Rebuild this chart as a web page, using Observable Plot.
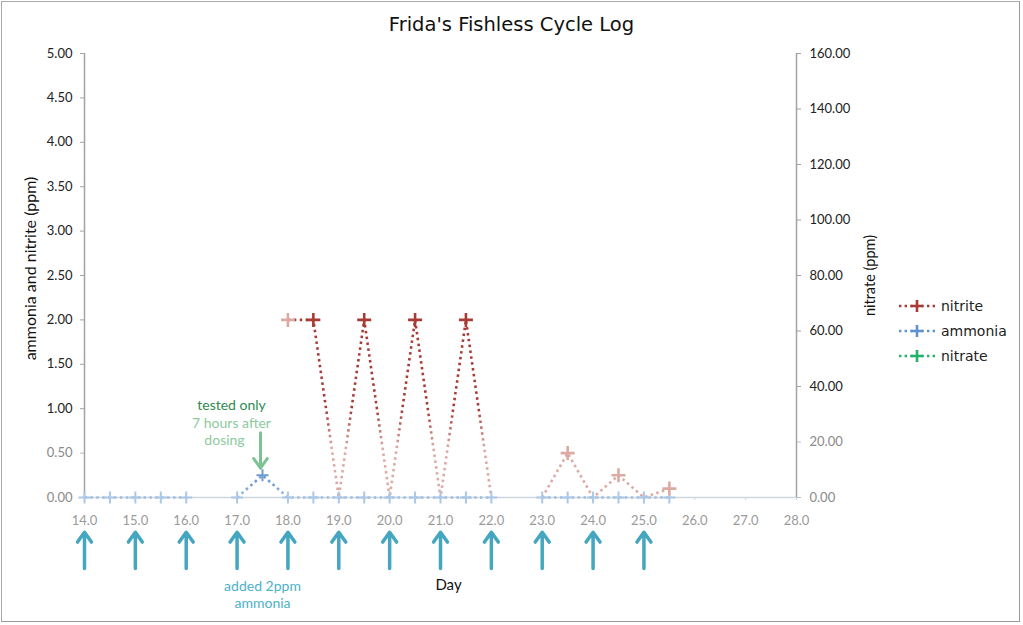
<!DOCTYPE html>
<html>
<head>
<meta charset="utf-8">
<script src="https://cdn.jsdelivr.net/npm/d3@7"></script>
<script src="https://cdn.jsdelivr.net/npm/@observablehq/plot@0.6"></script>
<style>
  html, body { margin: 0; padding: 0; background: #fff; overflow: hidden; }
  body { position: relative; width: 1023px; height: 625px; }
  #frame { position: absolute; left: 1px; top: 1px; width: 1017px; height: 619px;
           border: 1px solid #a9a9a9; border-right-color: #9a9a9a; border-bottom-color: #9a9a9a; pointer-events: none; }
  #title { height: 45px; line-height: 50px; text-align: center; font-family: "DejaVu Sans", Verdana, sans-serif;
           font-size: 19.5px; color: #111; padding-left: 0px; }
  #chart svg { display: block; }
  #legend { position: absolute; left: 898px; top: 293px; font-family: "DejaVu Sans", sans-serif; font-size: 14px; color: #222; }
  #legend .row { height: 25px; display: flex; align-items: center; }
  #legend svg { margin-right: 5px; }
</style>
</head>
<body>
<div id="title">Frida's Fishless Cycle Log</div>
<div id="chart"></div>
<div id="legend"></div>
<div id="frame"></div>
<script>
// ---- data ----
const days     = [14, 14.5, 15, 15.5, 16, 16.5, 17, 17.5, 18, 18.5, 19, 19.5, 20, 20.5, 21, 21.5, 22, 22.5, 23, 23.5, 24, 24.5, 25, 25.5];
const ammonia  = [0, 0, 0, 0, 0, null, 0, 0.25, 0, 0, 0, 0, 0, 0, 0, 0, 0, null, 0, 0, 0, 0, 0, 0];
const nitrite  = [null, null, null, null, null, null, null, null, 2, 2, 0, 2, 0, 2, 0, 2, 0, null, 0, 0.5, 0, 0.25, 0, 0.1];
const nitrate  = [];
const doseDays = [14, 15, 16, 17, 18, 19, 20, 21, 22, 23, 24, 25];
const xTicks   = [14, 15, 16, 17, 18, 19, 20, 21, 22, 23, 24, 25, 26, 27, 28];
const leftTicks  = [0, 0.5, 1, 1.5, 2, 2.5, 3, 3.5, 4, 4.5, 5];
const rightTicks = [0, 20, 40, 60, 80, 100, 120, 140, 160];
const seriesNames = ["nitrite", "ammonia", "nitrate"];
const noteTested = ["tested only", "7 hours after", "dosing"];
const noteDose = ["added 2ppm", "ammonia"];
const testedPoint = {day: 17.5, value: 0.25};
const dosePoint = {day: 17.5};

// ---- styling ----
const C = {
  nitrite: "#a83b35", nitriteFade: "#dcaaa3",
  ammonia: "#9dbde2", ammoniaMark: "#abc8e8", ammoniaPeak: "#6f9bd0",
  nitrate: "#22b36a",
  dose: "#45a6bf", doseText: "#4cb2c8",
  tested: "#2e8a4e", testedLight: "#8ec9a0", testedArrow: "#7cc394"
};
const W = 1023, H = 580, mT = 8, mB = 128, mL = 84, mR = 227;
const nitrateMax = 160, leftMax = 5, k = nitrateMax / leftMax;

const cross = {
  draw(ctx, size) {
    const r = Math.sqrt(size / Math.PI);
    ctx.moveTo(-r, 0); ctx.lineTo(r, 0);
    ctx.moveTo(0, -r); ctx.lineTo(0, r);
  }
};

const ammoniaData = days.map((d, i) => ({day: d, v: ammonia[i]}));
const nitriteData = days.map((d, i) => ({day: d, v: nitrite[i]}));
const nitrateData = nitrate.map((v, i) => ({day: days[i], v: v / k}));
const nitriteMarks = nitriteData.filter(d => d.v != null && d.v > 0);
const firstNitrite = nitriteMarks[0];

const dotted = {strokeWidth: 2.6, strokeDasharray: "2.5 3.4", strokeLinecap: "butt"};

const plot = Plot.plot({
  width: W, height: H,
  marginTop: mT, marginBottom: mB, marginLeft: mL, marginRight: mR,
  style: {fontFamily: "Lato, 'Open Sans', sans-serif", fontSize: "13px", background: "transparent", overflow: "visible"},
  x: {domain: [14, 28]},
  y: {domain: [0, leftMax]},
  marks: [
    // axis lines
    Plot.ruleY([0], {stroke: "#cdd6e0", strokeWidth: 1.5}),
    Plot.ruleX([14], {stroke: "#a3a3a3", strokeWidth: 1.5}),
    Plot.ruleX([28], {stroke: "#a3a3a3", strokeWidth: 1.5}),
    // left axis
    Plot.axisY(leftTicks.filter(t => t > 0.5), {anchor: "left", tickSize: 4, tickPadding: 8, stroke: "#a3a3a3", fill: "#222", fontSize: 13, tickFormat: d => d.toFixed(2), label: null}),
    Plot.axisY(leftTicks.filter(t => t <= 0.5), {anchor: "left", tickSize: 4, tickPadding: 8, stroke: "#bbb", fill: "#8a8a8a", fontSize: 13, tickFormat: d => d.toFixed(2), label: null}),
    // right axis (nitrate)
    Plot.axisY(rightTicks.filter(t => t > 20).map(t => t / k), {anchor: "right", tickSize: 4, tickPadding: 9, stroke: "#a3a3a3", fill: "#222", fontSize: 13, tickFormat: d => (d * k).toFixed(2), label: null}),
    Plot.axisY(rightTicks.filter(t => t <= 20).map(t => t / k), {anchor: "right", tickSize: 4, tickPadding: 9, stroke: "#bbb", fill: "#8a8a8a", fontSize: 13, tickFormat: d => (d * k).toFixed(2), label: null}),
    // x axis
    Plot.axisX(xTicks, {tickSize: 3, tickPadding: 15, stroke: "#cdd6e0", fill: "#9a9a9a", fontSize: 13, tickFormat: d => d.toFixed(1), label: null}),
    // axis titles
    Plot.text(["ammonia and nitrite (ppm)"], {frameAnchor: "left", textAnchor: "middle", lineAnchor: "middle", dx: -54, dy: -7, rotate: -90, fontSize: 16, fill: "#111", text: d => d}),
    Plot.text(["nitrate (ppm)"], {frameAnchor: "right", textAnchor: "middle", lineAnchor: "middle", dx: 74, dy: 0, rotate: -90, fontSize: 14.5, fill: "#111", text: d => d}),
    Plot.text(["Day"], {frameAnchor: "bottom", lineAnchor: "middle", dx: 8, dy: 88, fontSize: 15, fill: "#111", text: d => d}),
    // series lines
    Plot.line(ammoniaData, {x: "day", y: "v", stroke: "url(#ammoniaGrad)", ...dotted}),
    Plot.line(nitriteData, {x: "day", y: "v", stroke: "url(#nitriteGrad)", ...dotted}),
    Plot.line(nitrateData, {x: "day", y: "v", stroke: C.nitrate, ...dotted}),
    // markers
    Plot.dot(ammoniaData.filter(d => d.v != null), {x: "day", y: "v", symbol: cross, r: 6, fill: "none",
      stroke: d => d.v > 0 ? C.ammoniaPeak : C.ammoniaMark, strokeWidth: 2}),
    Plot.dot(nitriteMarks, {x: "day", y: "v", symbol: cross, r: 7, fill: "none",
      stroke: d => (d === firstNitrite || d.v < 1) ? C.nitriteFade : C.nitrite, strokeWidth: 2.6}),
    // dosing arrows
    Plot.arrow(doseDays, {x: d => d, y1: -0.8, y2: -0.39, stroke: C.dose, strokeWidth: 3.5, headLength: 11, headAngle: 70}),
    Plot.text([dosePoint], {x: "day", frameAnchor: "bottom", lineAnchor: "middle", dy: 89, fontSize: 14, fill: C.doseText, text: () => noteDose[0]}),
    Plot.text([dosePoint], {x: "day", frameAnchor: "bottom", lineAnchor: "middle", dy: 106, fontSize: 14, fill: C.doseText, text: () => noteDose[1]}),
    // tested annotation
    Plot.arrow([testedPoint], {x: "day", y1: d => d.value + 0.48, y2: d => d.value + 0.08, dx: -2, stroke: C.testedArrow, strokeWidth: 3, headLength: 10, headAngle: 70}),
    Plot.text([testedPoint], {x: "day", y: "value", dx: -31, dy: -70, text: () => noteTested[0], fontSize: 14, fill: C.tested}),
    Plot.text([testedPoint], {x: "day", y: "value", dx: -31, dy: -52, text: () => noteTested[1], fontSize: 14, fill: C.testedLight}),
    Plot.text([testedPoint], {x: "day", y: "value", dx: -38, dy: -35, text: () => noteTested[2], fontSize: 14, fill: C.testedLight})
  ]
});

// vertical gradients for the series lines (darker high, faded near zero)
const yScale = plot.scale("y");
const yPix = v => yScale.apply ? yScale.apply(v) : mT + (1 - v / leftMax) * (H - mT - mB);
const ns = "http://www.w3.org/2000/svg";
const defs = document.createElementNS(ns, "defs");
function addGrad(id, top, bottom, stops) {
  const grad = document.createElementNS(ns, "linearGradient");
  grad.setAttribute("id", id);
  grad.setAttribute("gradientUnits", "userSpaceOnUse");
  grad.setAttribute("x1", 0); grad.setAttribute("x2", 0);
  grad.setAttribute("y1", yPix(top)); grad.setAttribute("y2", yPix(bottom));
  stops.forEach(([o, c]) => {
    const s = document.createElementNS(ns, "stop");
    s.setAttribute("offset", o); s.setAttribute("stop-color", c);
    grad.appendChild(s);
  });
  defs.appendChild(grad);
}
addGrad("nitriteGrad", 2, 0, [[0, C.nitrite], [0.5, C.nitrite], [0.72, C.nitriteFade], [1, C.nitriteFade]]);
addGrad("ammoniaGrad", 0.25, 0, [[0, C.ammoniaPeak], [0.45, C.ammoniaPeak], [0.9, C.ammonia], [1, C.ammonia]]);
plot.insertBefore(defs, plot.firstChild);
document.getElementById("chart").appendChild(plot);

// legend
const legendColors = {nitrite: C.nitrite, ammonia: "#5f92cf", nitrate: C.nitrate};
const legend = d3.select("#legend");
seriesNames.forEach(name => {
  const row = legend.append("div").attr("class", "row");
  const s = row.append("svg").attr("width", 38).attr("height", 16);
  s.append("line").attr("x1", 1).attr("x2", 37).attr("y1", 8).attr("y2", 8)
    .attr("stroke", legendColors[name]).attr("stroke-width", 2.4).attr("stroke-dasharray", "2.4 3.2");
  s.append("path").attr("d", "M13,8H25M19,2V14").attr("stroke", legendColors[name]).attr("stroke-width", 2.6).attr("fill", "none");
  row.append("span").text(name);
});
</script>
</body>
</html>
